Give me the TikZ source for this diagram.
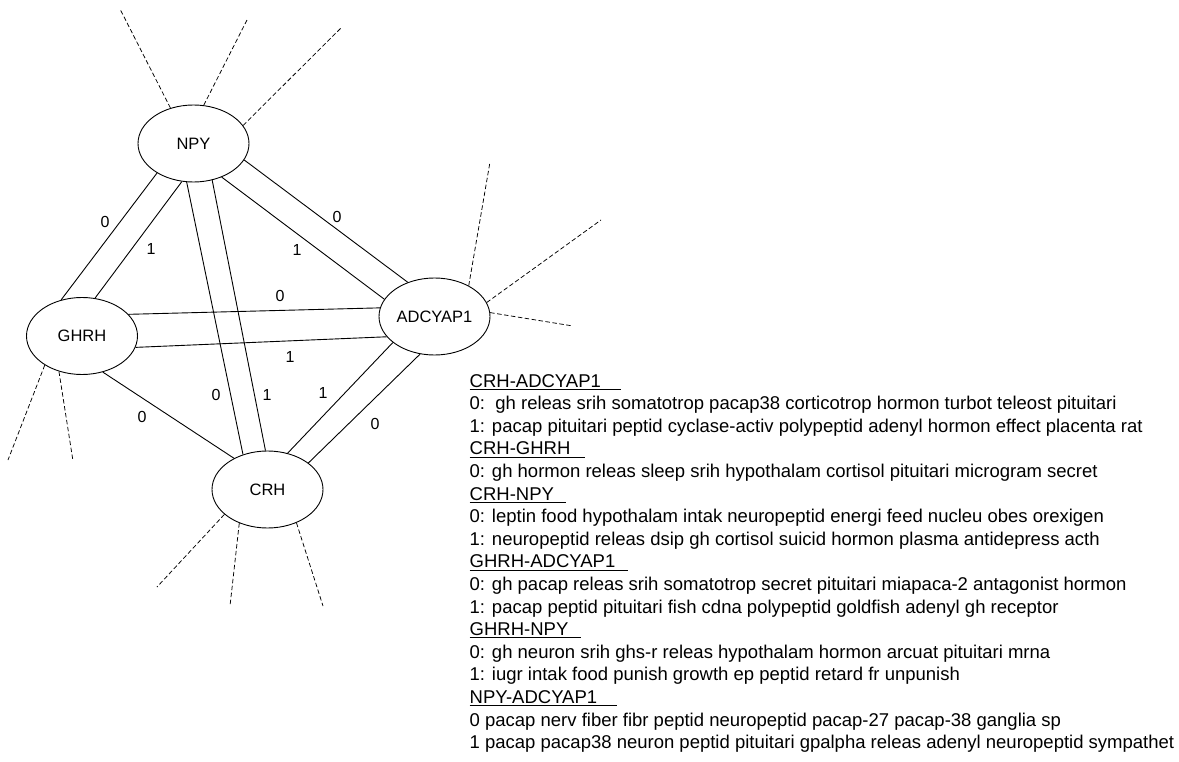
\documentclass[tikz,border=0pt]{standalone}
\usepackage{fontspec}
\setmainfont{Liberation Sans}
\usetikzlibrary{shapes.geometric}
\newcommand{\ulhead}[2]{\sbox0{#1\hspace{#2}}\rlap{\rule[-2.6pt]{\wd0}{0.9pt}}#1}
\tikzset{
  gene/.style={draw, line width=0.9pt, shape=ellipse, minimum width=111pt, minimum height=77pt, inner sep=0pt, font=\fontsize{16.5}{18}\selectfont},
  edgeline/.style={draw, line width=0.9pt},
  dashline/.style={draw, line width=0.75pt, dash pattern=on 4.5pt off 2.5pt},
  elabel/.style={inner sep=0pt, font=\fontsize{16}{17}\selectfont},
  txt/.style={anchor=base west, inner sep=0pt, font=\fontsize{18.5}{20}\selectfont}
}
\begin{document}
\begin{tikzpicture}[x=1pt,y=-1pt]
\useasboundingbox[fill=white] (0,0) rectangle (1179,762);
% genes
\node[gene] (NPY) at (193.5,143.5) {NPY};
\node[gene] (GHRH) at (82,336) {GHRH};
\node[gene] (ADC) at (434.5,316.5) {ADCYAP1};
\node[gene] (CRH) at (267.5,489.5) {CRH};
% pairs of edges
\draw[edgeline] (NPY.219) -- (GHRH.120);
\draw[edgeline] (NPY.253) -- (GHRH.71);
\draw[edgeline] (NPY.260) -- (CRH.125.5);
\draw[edgeline] (NPY.297) -- (CRH.93);
\draw[edgeline] (NPY.310) -- (ADC.161);
\draw[edgeline] (NPY.342) -- (ADC.128);
\draw[edgeline] (GHRH.25) -- (ADC.171);
\draw[edgeline] (GHRH.-12) -- (ADC.203);
\draw[edgeline] (GHRH.300) -- (CRH.137.6);
\draw[edgeline] (CRH.61.6) -- (ADC.212.6);
\draw[edgeline] (CRH.33) -- (ADC.249);
% edge labels
\node[elabel] (l1) at (105,222) {0};
\node[elabel] (l2) at (151,249) {1};
\node[elabel] (l3) at (337,217) {0};
\node[elabel] (l4) at (297,250) {1};
\node[elabel] (l5) at (280,296) {0};
\node[elabel] (l6) at (290,357) {1};
\node[elabel] (l7) at (216,395) {0};
\node[elabel] (l8) at (267,395) {1};
\node[elabel] (l9) at (142,417) {0};
\node[elabel] (l10) at (323,393) {1};
\node[elabel] (l11) at (375,424) {0};
% dashed stubs
\coordinate (n1) at (120,9);
\coordinate (n2) at (248,18);
\coordinate (n3) at (342,27);
\coordinate (g1) at (8,460);
\coordinate (g2) at (73,461);
\coordinate (a1) at (490,162);
\coordinate (a2) at (601,220);
\coordinate (a3) at (573,326);
\coordinate (c1) at (157,587);
\coordinate (c2) at (230,606);
\coordinate (c3) at (323,606);
\draw[dashline] (NPY.123) -- (n1);
\draw[dashline] (NPY.75) -- (n2);
\draw[dashline] (NPY.20.5) -- (n3);
\draw[dashline] (GHRH.218) -- (g1);
\draw[dashline] (GHRH.237) -- (g2);
\draw[dashline] (ADC.42.3) -- (a1);
\draw[dashline] (ADC.15.4) -- (a2);
\draw[dashline] (ADC.4.6) -- (a3);
\draw[dashline] (CRH.210.4) -- (c1);
\draw[dashline] (CRH.230.7) -- (c2);
\draw[dashline] (CRH.311.4) -- (c3);
% text block
\node[txt] (t1) at (469.5,387) {\ulhead{CRH-ADCYAP1}{20pt}};
\node[txt] (t2) at (469.5,409.6) {0:\ \ gh releas srih somatotrop pacap38 corticotrop hormon turbot teleost pituitari};
\node[txt] (t3) at (469.5,432.2) {1: pacap pituitari peptid cyclase-activ polypeptid adenyl hormon effect placenta rat};
\node[txt] (t4) at (469.5,454.8) {\ulhead{CRH-GHRH}{15pt}};
\node[txt] (t5) at (469.5,477.4) {0: gh hormon releas sleep srih hypothalam cortisol pituitari microgram secret};
\node[txt] (t6) at (469.5,500.0) {\ulhead{CRH-NPY}{12pt}};
\node[txt] (t7) at (469.5,522.6) {0: leptin food hypothalam intak neuropeptid energi feed nucleu obes orexigen};
\node[txt] (t8) at (469.5,545.2) {1: neuropeptid releas dsip gh cortisol suicid hormon plasma antidepress acth};
\node[txt] (t9) at (469.5,567.8) {\ulhead{GHRH-ADCYAP1}{13pt}};
\node[txt] (t10) at (469.5,590.4) {0: gh pacap releas srih somatotrop secret pituitari miapaca-2 antagonist hormon};
\node[txt] (t11) at (469.5,613.0) {1: pacap peptid pituitari fish cdna polypeptid goldfish adenyl gh receptor};
\node[txt] (t12) at (469.5,635.6) {\ulhead{GHRH-NPY}{13pt}};
\node[txt] (t13) at (469.5,658.2) {0: gh neuron srih ghs-r releas hypothalam hormon arcuat pituitari mrna};
\node[txt] (t14) at (469.5,680.8) {1: iugr intak food punish growth ep peptid retard fr unpunish};
\node[txt] (t15) at (469.5,703.4) {\ulhead{NPY-ADCYAP1}{20pt}};
\node[txt] (t16) at (469.5,726.0) {0 pacap nerv fiber fibr peptid neuropeptid pacap-27 pacap-38 ganglia sp};
\node[txt] (t17) at (469.5,748.6) {1 pacap pacap38 neuron peptid pituitari gpalpha releas adenyl neuropeptid sympathet};
\end{tikzpicture}
\end{document}
